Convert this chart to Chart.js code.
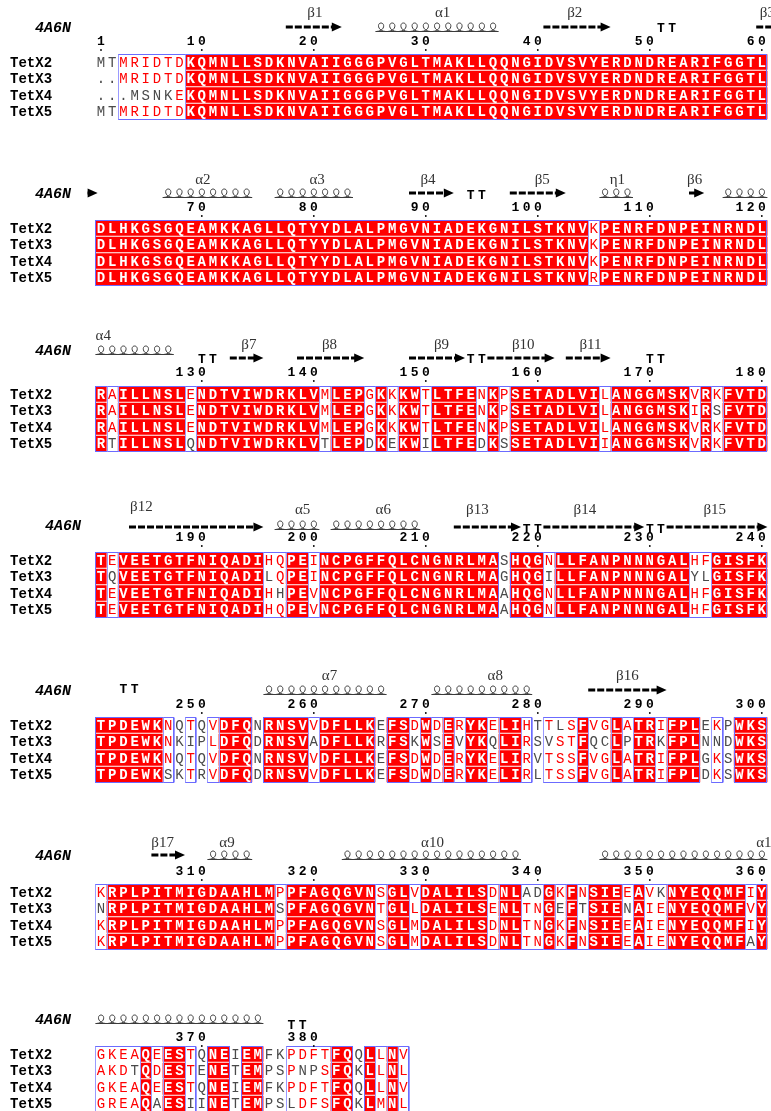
<!DOCTYPE html>
<html><head><meta charset="utf-8">
<script src="https://cdn.jsdelivr.net/npm/chart.js@4.4.1/dist/chart.umd.min.js"></script>
<style>html,body{margin:0;padding:0;background:#fff}#wrap{width:771px;height:1111px;position:relative}</style>
</head><body><div id="wrap"><canvas id="c" width="771" height="1111" style="width:771px;height:1111px"></canvas></div>
<script>
// ---------------- data ----------------
const seqNames = ['TetX2','TetX3','TetX4','TetX5'];
const seqTetX2 = ['MTMRIDTDKQMNLLSDKNVAIIGGGPVGLTMAKLLQQNGIDVSVYERDNDREARIFGGTL',
 'DLHKGSGQEAMKKAGLLQTYYDLALPMGVNIADEKGNILSTKNVKPENRFDNPEINRNDL',
 'RAILLNSLENDTVIWDRKLVMLEPGKKKWTLTFENKPSETADLVILANGGMSKVRKFVTD',
 'TEVEETGTFNIQADIHQPEINCPGFFQLCNGNRLMASHQGNLLFANPNNNGALHFGISFK',
 'TPDEWKNQTQVDFQNRNSVVDFLLKEFSDWDERYKELIHTTLSFVGLATRIFPLEKPWKS',
 'KRPLPITMIGDAAHLMPPFAGQGVNSGLVDALILSDNLADGKFNSIEEAVKNYEQQMFIY',
 'GKEAQEESTQNEIEMFKPDFTFQQLLNV'].join('');
const seqTetX3 = ['..MRIDTDKQMNLLSDKNVAIIGGGPVGLTMAKLLQQNGIDVSVYERDNDREARIFGGTL',
 'DLHKGSGQEAMKKAGLLQTYYDLALPMGVNIADEKGNILSTKNVKPENRFDNPEINRNDL',
 'RAILLNSLENDTVIWDRKLVMLEPGKKKWTLTFENKPSETADLVILANGGMSKIRSFVTD',
 'TQVEETGTFNIQADILQPEINCPGFFQLCNGNRLMAGHQGILLFANPNNNGALYLGISFK',
 'TPDEWKNKIPLDFQDRNSVADFLLKRFSKWSEVYKQLIRSVSTFQCLPTRKFPLNNDWKS',
 'NRPLPITMIGDAAHLMSPFAGQGVNTGLLDALILSENLTNGEFTSIENAIENYEQQMFVY',
 'AKDTQDESTENETEMPSPNPSFQKLLNL'].join('');
const seqTetX4 = ['...MSNKEKQMNLLSDKNVAIIGGGPVGLTMAKLLQQNGIDVSVYERDNDREARIFGGTL',
 'DLHKGSGQEAMKKAGLLQTYYDLALPMGVNIADEKGNILSTKNVKPENRFDNPEINRNDL',
 'RAILLNSLENDTVIWDRKLVMLEPGKKKWTLTFENKPSETADLVILANGGMSKVRKFVTD',
 'TEVEETGTFNIQADIHHPEVNCPGFFQLCNGNRLMAAHQGNLLFANPNNNGALHFGISFK',
 'TPDEWKNQTQVDFQNRNSVVDFLLKEFSDWDERYKELIRVTSSFVGLATRIFPLGKSWKS',
 'KRPLPITMIGDAAHLMPPFAGQGVNSGLMDALILSDNLTNGKFNSIEEAIENYEQQMFIY',
 'GKEAQEESTQNEIEMFKPDFTFQQLLNV'].join('');
const seqTetX5 = ['MTMRIDTDKQMNLLSDKNVAIIGGGPVGLTMAKLLQQNGIDVSVYERDNDREARIFGGTL',
 'DLHKGSGQEAMKKAGLLQTYYDLALPMGVNIADEKGNILSTKNVRPENRFDNPEINRNDL',
 'RTILLNSLQNDTVIWDRKLVTLEPDKEKWILTFEDKSSETADLVIIANGGMSKVRKFVTD',
 'TEVEETGTFNIQADIHQPEVNCPGFFQLCNGNRLMAAHQGNLLFANPNNNGALHFGISFK',
 'TPDEWKSKTRVDFQDRNSVVDFLLKEFSDWDERYKELIRLTSSFVGLATRIFPLDKSWKS',
 'KRPLPITMIGDAAHLMPPFAGQGVNSGLMDALILSDNLTNGKFNSIEEAIENYEQQMFAY',
 'GREAQAESIINETEMPSLDFSFQKLMNL'].join('');

// column classes as runs: I = identical (red box), S = similar (framed), - = none
const classRuns = [
 ['-',2],['S',6],['I',52],
 ['I',44],['S',1],['I',15],
 ['I',1],['S',1],['I',6],['S',1],['I',11],['S',1],['I',3],['S',1],['I',1],['S',1],['I',2],['S',1],['I',4],['S',1],['I',1],['S',1],['I',8],['S',1],['I',7],['S',1],['I',1],['S',1],['I',4],
 ['I',1],['S',1],['I',13],['S',2],['I',2],['S',1],['I',16],['-',1],['I',3],['S',1],['I',12],['S',2],['I',5],
 ['I',6],['S',1],['-',1],['S',1],['-',1],['S',1],['I',3],['-',1],['I',4],['S',1],['I',5],['-',1],['I',2],['S',1],['I',1],['S',1],['I',1],['S',1],['I',2],['S',1],['I',2],['S',1],['-',1],['S',3],['I',1],['S',2],['I',1],['S',1],['I',2],['S',1],['I',3],['-',1],['S',1],['-',1],['I',3],
 ['S',1],['I',15],['S',1],['I',8],['S',1],['I',2],['S',1],['I',6],['S',1],['I',2],['S',2],['I',1],['S',1],['I',1],['S',1],['I',3],['S',1],['I',1],['S',2],['I',7],['S',1],['I',1],
 ['S',4],['I',1],['S',1],['I',2],['S',1],['-',1],['I',2],['-',1],['I',2],['-',2],['S',4],['I',2],['-',1],['I',1],['S',1],['I',1],['S',1]
];

// secondary structure of 4A6N (residue ranges)
const helices = [['α1',26,36],['α2',67,74],['α3',77,83],['η1',106,108],['α4',117,127],['α5',197,200],['α6',202,209],['α7',256,266],['α8',271,279],['α9',311,314],['α10',323,338],['α11',346,375]];
const strands = [['β1',18,22],['β2',41,46],['β3',60,61],['β4',89,92],['β5',98,102],['β6',114,114],['β7',133,135],['β8',139,144],['β9',149,153],['β10',156,161],['β11',163,166],['β12',184,195],['β13',213,218],['β14',221,229],['β15',232,240],['β16',285,291],['β17',306,308]];
const turns = [51,52,94,95,130,131,154,155,170,171,219,220,230,231,243,244,378,379];
const ssLabels = [['β1',20.1],['α1',31.5],['β2',43.3],['β3',60.5],['α2',70.1],['α3',80.3],['β4',90.2],['β5',100.4],['η1',107.1],['β6',114],['α4',121.2,-9],['β7',134.2],['β8',141.4],['β9',151.4],['β10',158.7],['β11',164.7],['β12',184.6,-3],['α5',199],['α6',206.2],['β13',214.6],['β14',224.2],['β15',235.8],['α7',261.4],['α8',276.2],['β16',288],['β17',306.5],['α9',312.25],['α10',330.6],['α11',360.5]];
const tickNumbers = [1,10,20,30,40,50,60,70,80,90,100,110,120,130,140,150,160,170,180,190,200,210,220,230,240,250,260,270,280,290,300,310,320,330,340,350,360,370,380];
const structureName = '4A6N';

// ---------------- layout / style ----------------
const blockLen = 60;
const rowStep = 16.5;
const blockLayout = [
 {y:62,  lab:13,   arr:27,  coil:27,  tt:29,  num:42,  pdbX:-4.9},
 {y:228, lab:180,  arr:193, coil:193, tt:196, num:208, pdbX:-4.9},
 {y:394, lab:345,  arr:358, coil:350, tt:360, num:373, pdbX:-4.9},
 {y:560, lab:510,  arr:527, coil:525, tt:530, num:538, pdbX:-4.0},
 {y:725, lab:676,  arr:690, coil:690, tt:690, num:705, pdbX:-4.9},
 {y:892, lab:843,  arr:855, coil:855, tt:857, num:872, pdbX:-4.9},
 {y:1054,lab:1004, arr:1019,coil:1019,tt:1026,num:1038,pdbX:-4.9}
];
const nameCol = -7.12;
const simGroups = ['ILVM','FYW','KRH','DE','NQ','ST','AG','P','C'];
const RED = '#ff0000', FRAME = '#6b6bff', GREY = '#4a4a4a';

function expandRuns(runs){ let s=''; runs.forEach(([c,n])=>{ s += c.repeat(n); }); return s; }
function grp(c){ return simGroups.findIndex(g=>g.includes(c)); }

const alignmentPlugin = {
 id:'alignment',
 afterDraw(chart){
  const ctx = chart.ctx, xs = chart.scales.x, ys = chart.scales.y;
  const cw = xs.getPixelForValue(1) - xs.getPixelForValue(0);
  const seqs = [seqTetX2, seqTetX3, seqTetX4, seqTetX5];
  const cls = expandRuns(classRuns);
  const total = seqTetX2.length;
  ctx.save();
  for (let b=0; b*blockLen < total; b++){
   const start = b*blockLen+1, end = Math.min(start+blockLen-1, total);
   const L = blockLayout[b];
   const X = r => xs.getPixelForValue(r - start + 1);
   const Y = v => ys.getPixelForValue(v);
   const rowY = i => Y(L.y + i*rowStep);
   const half = (rowStep-1)/2;
   const y0 = Math.round(rowY(0)-half-0.5)+0.5, y1 = Math.round(rowY(3)+half)+0.5;
   // red identical cells (per run)
   ctx.fillStyle = RED;
   let r = start;
   while (r <= end){
    if (cls[r-1] === 'I'){
     let e = r; while (e+1 <= end && cls[e] === 'I') e++;
     for (let i=0;i<4;i++){
      ctx.fillRect(X(r)-cw/2, rowY(i)-half, X(e)-X(r)+cw, half*2);
     }
     r = e+1;
    } else r++;
   }
   // frames around conserved runs
   ctx.strokeStyle = FRAME; ctx.lineWidth = 1;
   r = start;
   while (r <= end){
    if (cls[r-1] !== '-'){
     let e = r; while (e+1 <= end && cls[e] !== '-') e++;
     const x0 = Math.round(X(r)-cw/2)+0.5, x1 = Math.round(X(e)+cw/2)-0.5;
     ctx.strokeRect(x0, y0, x1-x0, y1-y0);
     r = e+1;
    } else r++;
   }
   // thin separators around similar-column groups
   ctx.strokeStyle = '#9a9aff';
   r = start;
   while (r <= end){
    if (cls[r-1] === 'S'){
     let e = r; while (e+1 <= end && cls[e] === 'S') e++;
     [X(r)-cw/2, X(e)+cw/2].forEach(xx=>{
      const xp = Math.round(xx)+0.5;
      ctx.beginPath(); ctx.moveTo(xp, y0); ctx.lineTo(xp, y1); ctx.stroke();
     });
     r = e+1;
    } else r++;
   }
   // residues
   ctx.textAlign = 'center'; ctx.textBaseline = 'middle';
   for (let c=start; c<=end; c++){
    const k = cls[c-1];
    const col = seqs.map(s=>s[c-1]);
    const counts = {}; col.forEach(ch=>{ if(ch!=='.') counts[ch]=(counts[ch]||0)+1; });
    let cons = null, best = 0; col.forEach(ch=>{ if(ch!=='.' && counts[ch]>best){best=counts[ch]; cons=ch;} });
    for (let i=0;i<4;i++){
     const ch = col[i];
     let color = GREY, font = '14px "Liberation Mono"';
     if (k === 'I'){ color = '#ffffff'; font = 'bold 14px "Liberation Mono"'; }
     else if (k === 'S' && ch !== '.' && grp(ch) === grp(cons)) { color = RED; }
     ctx.fillStyle = color; ctx.font = font;
     ctx.fillText(ch, X(c), rowY(i)+1);
    }
   }
   // sequence names
   ctx.textAlign = 'left'; ctx.fillStyle = '#000'; ctx.font = 'bold 14px "Liberation Mono"';
   seqNames.forEach((n,i)=>ctx.fillText(n, xs.getPixelForValue(nameCol), rowY(i)+1));
   // structure name
   ctx.font = 'italic bold 15px "Liberation Mono"';
   ctx.fillText(structureName, xs.getPixelForValue(L.pdbX), Y(L.coil)+1);
   // tick numbers with dots
   ctx.textAlign = 'center'; ctx.font = 'bold 13px "Liberation Mono"';
   tickNumbers.forEach(t=>{
    if (t < start || t > end) return;
    const s = String(t);
    for (let d=0; d<s.length; d++){
     ctx.fillText(s[d], X(t - (s.length-1-d)), Y(L.num));
    }
    ctx.beginPath(); ctx.arc(X(t), Y(L.num)+8, 0.9, 0, Math.PI*2); ctx.fill();
   });
   // turns
   ctx.font = 'bold 13px "Liberation Mono"';
   turns.forEach(t=>{ if (t>=start && t<=end) ctx.fillText('T', X(t), Y(L.tt)); });
   // helices
   ctx.strokeStyle = '#3a3a3a'; ctx.lineWidth = 1;
   helices.forEach(([lab,s,e])=>{
    if (e < start || s > end) return;
    const ps = Math.max(s,start), pe = Math.min(e,end);
    const base = Y(L.coil)+4.5, h = 8.5, w = cw;
    ctx.beginPath();
    ctx.moveTo(X(ps)-w/2, base); ctx.lineTo(X(pe)+w/2, base);
    for (let q=ps; q<=pe; q++){
     const cx = X(q);
     ctx.moveTo(cx-w*0.42, base);
     ctx.bezierCurveTo(cx+w*0.38, base-0.5, cx+w*0.36, base-h, cx, base-h);
     ctx.bezierCurveTo(cx-w*0.36, base-h, cx-w*0.34, base-0.5, cx+w*0.42, base);
    }
    ctx.stroke();
   });
   // strands
   ctx.fillStyle = '#000'; ctx.strokeStyle = '#000';
   strands.forEach(([lab,s,e])=>{
    if (e < start || s > end) return;
    const ps = Math.max(s,start), pe = Math.min(e,end);
    let x0 = X(ps)-cw/2, x1 = X(pe)+cw/2;
    const head = e <= end;
    if (s < start){ x0 -= 0.7*cw; x1 -= 0.8*cw; }
    else if (head && ps === pe) x1 += 4;
    if (!head) x1 += 4;
    const y = Y(L.arr), hl = 10;
    const shaftEnd = head ? x1-hl : x1;
    if (shaftEnd > x0){
     ctx.lineWidth = 3; ctx.setLineDash([7,2]);
     ctx.beginPath(); ctx.moveTo(x0,y); ctx.lineTo(shaftEnd+1,y); ctx.stroke();
     ctx.setLineDash([]);
    }
    if (head){
     ctx.beginPath(); ctx.moveTo(x1,y); ctx.lineTo(x1-hl,y-4.5); ctx.lineTo(x1-hl,y+4.5); ctx.closePath(); ctx.fill();
    }
   });
   // secondary-structure labels
   ctx.fillStyle = '#333'; ctx.font = '15px "Liberation Serif"'; ctx.textAlign = 'center';
   ssLabels.forEach(([lab,pos,dy])=>{
    if (Math.floor(pos) < start || Math.floor(pos) > end) return;
    ctx.fillText(lab, X(pos), Y(L.lab + (dy||0)));
   });
  }
  ctx.restore();
 }
};

new Chart(document.getElementById('c'), {
 type:'scatter',
 data:{datasets:[{data:[], pointRadius:0}]},
 options:{
  responsive:false, animation:false, devicePixelRatio:1,
  layout:{padding:0},
  plugins:{legend:{display:false}, tooltip:{enabled:false}},
  scales:{
   x:{type:'linear', min:-8.018, max:60.82, display:false},
   y:{type:'linear', min:0, max:1111, reverse:true, display:false}
  }
 },
 plugins:[alignmentPlugin]
});
</script>
</body></html>
